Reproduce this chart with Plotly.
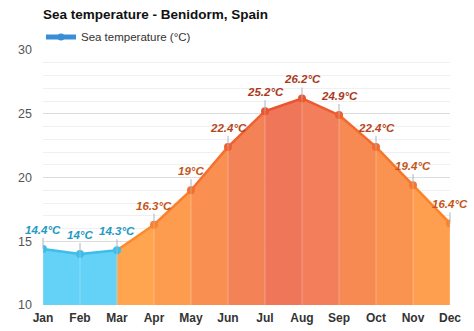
import plotly.graph_objects as go

months = ["Jan", "Feb", "Mar", "Apr", "May", "Jun", "Jul", "Aug", "Sep", "Oct", "Nov", "Dec"]
sea_temp = [14.4, 14.0, 14.3, 16.3, 19.0, 22.4, 25.2, 26.2, 24.9, 22.4, 19.4, 16.4]

# fill colour of the area between month i and month i+1
segment_fill = ["#5ccff6", "#5ccff6", "#ff9f46", "#fd9746", "#f98a49", "#f27c4e",
                "#ee6f4f", "#f17752", "#f7834a", "#fb8d47", "#fe9a47"]
segment_line = ["#3dbde9", "#3dbde9", "#fb8a2c", "#f9802e", "#f4702f", "#ee6030",
                "#ea5530", "#ec5b30", "#f26a2e", "#f6762c", "#fa842c"]
point_color = ["#3dbde9", "#3dbde9", "#3dbde9", "#f9802e", "#f4702f", "#ee6030",
               "#ea5530", "#ea5530", "#ee6030", "#f26a2e", "#f6762c", "#fa842c"]
label_color = ["#2399c4", "#2399c4", "#2399c4", "#c4561a", "#c4561a", "#b8461c",
               "#a83a1c", "#a83a1c", "#a83a1c", "#b8461c", "#c4561a", "#c4561a"]

y_min, y_max = 10, 30
xs = list(range(len(months)))

fig = go.Figure()

# coloured area under each month-to-month segment
for i in range(len(months) - 1):
    fig.add_trace(go.Scatter(
        x=[xs[i], xs[i], xs[i + 1], xs[i + 1]],
        y=[y_min, sea_temp[i], sea_temp[i + 1], y_min],
        fill="toself", fillcolor=segment_fill[i], opacity=0.95,
        mode="lines", line=dict(width=0), hoverinfo="skip", showlegend=False,
    ))

# thin vertical lines at each month inside the filled area
for i in xs:
    fig.add_shape(type="line", x0=xs[i], x1=xs[i], y0=y_min, y1=sea_temp[i],
                  line=dict(color="rgba(255,255,255,0.28)", width=1))

# the temperature line, coloured segment by segment
for i in range(len(months) - 1):
    fig.add_trace(go.Scatter(
        x=[xs[i], xs[i + 1]], y=[sea_temp[i], sea_temp[i + 1]],
        mode="lines", line=dict(color=segment_line[i], width=2.5),
        hoverinfo="skip", showlegend=False,
    ))

fig.add_trace(go.Scatter(
    x=xs, y=sea_temp, mode="markers",
    marker=dict(color=point_color, size=8),
    showlegend=False, hovertemplate="%{y}°C<extra></extra>",
))

# legend entry
fig.add_trace(go.Scatter(
    x=[None], y=[None], mode="lines+markers", name="Sea temperature (°C)",
    line=dict(color="#3a8ed6", width=5), marker=dict(color="#3a8ed6", size=7),
))

for i in xs:
    fig.add_annotation(
        x=xs[i], y=sea_temp[i], text=f"<b><i>{sea_temp[i]:g}°C</i></b>",
        showarrow=True, arrowhead=0, arrowwidth=1, arrowcolor="#a9b4bf",
        ax=0, ay=-11, standoff=0,
        font=dict(family="Liberation Sans, Arial", size=11.5, color=label_color[i]),
        yanchor="bottom",
    )

fig.update_layout(
    width=474, height=331,
    margin=dict(l=43, r=24, t=50, b=26),
    paper_bgcolor="white", plot_bgcolor="white",
    font=dict(family="Liberation Sans, Arial", size=12, color="#444"),
    title=dict(text="<b>Sea temperature - Benidorm, Spain</b>",
               x=0, xref="paper", xanchor="left", y=0.958, yanchor="middle",
               font=dict(size=13.5, color="#111")),
    legend=dict(orientation="h", x=-0.005, xanchor="left", y=1.051, yanchor="middle",
                font=dict(size=11.5, color="#333"), itemwidth=30,
                bgcolor="rgba(0,0,0,0)"),
    showlegend=True,
    xaxis=dict(range=[0, 11], tickvals=xs,
               ticktext=[f"<b>{m}</b>" for m in months],
               showgrid=False, zeroline=False, showline=False, ticks="",
               ticklabelstandoff=4, automargin=False,
               tickfont=dict(size=12, color="#333"), fixedrange=True),
    yaxis=dict(range=[y_min, y_max], dtick=5, showgrid=True, gridcolor="#dddddd",
               gridwidth=1, zeroline=False, ticks="", ticklen=0,
               ticklabelstandoff=10, automargin=False,
               tickfont=dict(size=12.5, color="#555"),
               minor=dict(dtick=1, showgrid=True, gridcolor="#f0f0f0", gridwidth=1),
               fixedrange=True),
)

fig.write_html("out.html")
